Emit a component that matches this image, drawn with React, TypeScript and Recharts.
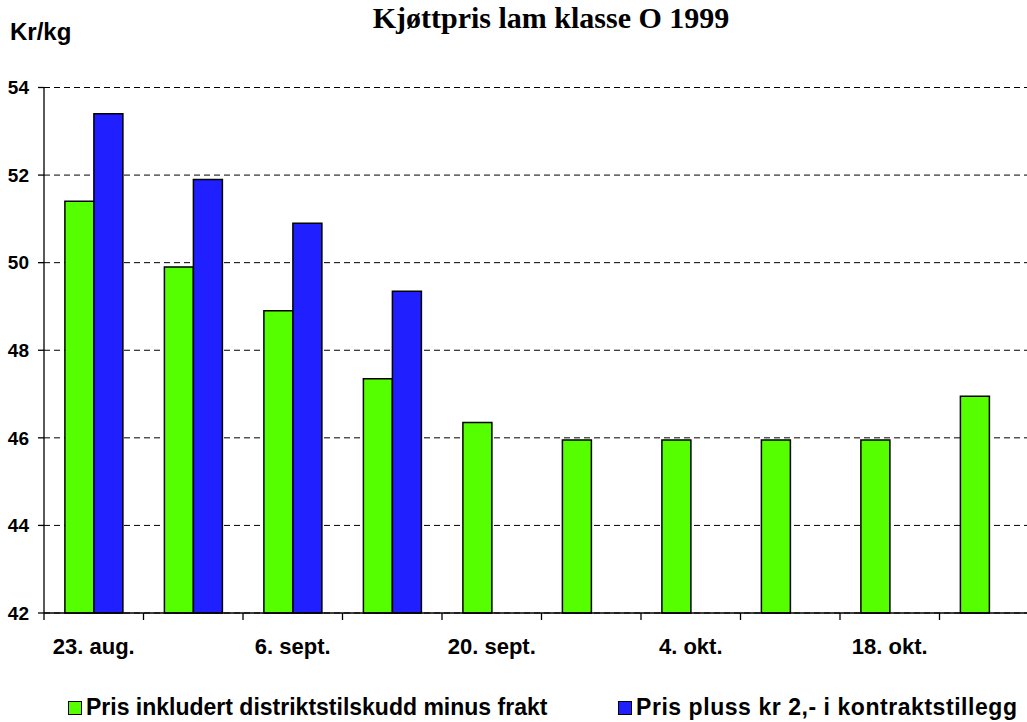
import React from "react";
import { BarChart, Bar, XAxis, YAxis, CartesianGrid, Legend } from "recharts";

const categories = ["23. aug.", "30. aug.", "6. sept.", "13. sept.", "20. sept.", "27. sept.", "4. okt.", "11. okt.", "18. okt.", "25. okt."];
const shownLabels = [true, false, true, false, true, false, true, false, true, false];
const greenValues = [51.4, 49.9, 48.9, 47.35, 46.35, 45.95, 45.95, 45.95, 45.95, 46.95];
const blueValues: (number | null)[] = [53.4, 51.9, 50.9, 49.35, null, null, null, null, null, null];
const yTicks = [42, 44, 46, 48, 50, 52, 54];

const greenName = "Pris inkludert distriktstilskudd minus frakt";
const blueName = "Pris pluss kr 2,- i kontraktstillegg";
const GREEN = "#55ff00";
const BLUE = "#1f1fff";

const data = categories.map((c, i) => ({ cat: c, green: greenValues[i], blue: blueValues[i] }));

const FONT = "'Liberation Sans', Arial, sans-serif";

const XTick = (props: any) => {
  const { x, y, payload, index } = props;
  const off = payload && payload.offset ? payload.offset : 0;
  return (
    <g>
      <line x1={x - off} x2={x - off} y1={y} y2={y + 7} stroke="#000" strokeWidth={1.3} />
      {shownLabels[index] ? (
        <text x={x} y={y + 41} textAnchor="middle" fontFamily={FONT} fontWeight="bold" fontSize={22} fill="#000">
          {payload.value}
        </text>
      ) : null}
    </g>
  );
};

const LegendContent = () => (
  <div style={{ position: "relative", width: 1027, height: 30, fontFamily: FONT, fontWeight: "bold", fontSize: 23, color: "#000" }}>
    <div style={{ position: "absolute", left: 68, top: 7, width: 12, height: 12, background: GREEN, border: "1px solid #000" }} />
    <div style={{ position: "absolute", left: 86, top: 0, whiteSpace: "nowrap", lineHeight: "26px" }}>{greenName}</div>
    <div style={{ position: "absolute", left: 618, top: 7, width: 12, height: 12, background: BLUE, border: "1px solid #000" }} />
    <div style={{ position: "absolute", left: 636, top: 0, whiteSpace: "nowrap", lineHeight: "26px", letterSpacing: 0.55 }}>{blueName}</div>
  </div>
);

export default function App() {
  return (
    <div style={{ position: "absolute", left: 0, top: 0, width: 1027, height: 722, overflow: "hidden", background: "#fff" }}>
      <div style={{ position: "absolute", left: 0, top: 1, width: 1102, textAlign: "center", fontFamily: "'Liberation Serif', 'Times New Roman', serif", fontWeight: "bold", fontSize: 30, color: "#000", whiteSpace: "nowrap" }}>
        Kjøttpris lam klasse O 1999
      </div>
      <div style={{ position: "absolute", left: 10, top: 18, fontFamily: FONT, fontWeight: "bold", fontSize: 24, color: "#000" }}>
        Kr/kg
      </div>
      <div style={{ position: "absolute", left: 0, top: 0 }}>
        <BarChart
          width={1060}
          height={722}
          data={data}
          margin={{ top: 87.5, right: 21, left: 0, bottom: 69 }}
          barCategoryGap="21%"
          barGap={0}
        >
          <CartesianGrid vertical={false} stroke="#000" strokeDasharray="6 4" strokeWidth={1} />
          <XAxis
            dataKey="cat"
            interval={0}
            tickLine={false}
            tickSize={0}
            tickMargin={0}
            height={40}
            tick={<XTick />}
            axisLine={{ stroke: "#000", strokeWidth: 1.3 }}
          />
          <YAxis
            domain={[42, 54]}
            ticks={yTicks}
            width={44}
            tickSize={6}
            tickMargin={9}
            interval={0}
            axisLine={{ stroke: "#000", strokeWidth: 1.3 }}
            tickLine={{ stroke: "#000", strokeWidth: 1.3 }}
            tick={{ fontFamily: FONT, fontWeight: "bold", fontSize: 19, fill: "#000" }}
          />
          <Legend
            layout="horizontal"
            verticalAlign="middle"
            align="center"
            wrapperStyle={{ position: "absolute", top: 694, left: 0, width: 1027, height: 28 }}
            content={<LegendContent />}
          />
          <Bar dataKey="green" name={greenName} fill={GREEN} stroke="#000" strokeWidth={1.5} isAnimationActive={false} />
          <Bar dataKey="blue" name={blueName} fill={BLUE} stroke="#000" strokeWidth={1.5} isAnimationActive={false} />
        </BarChart>
      </div>
    </div>
  );
}
